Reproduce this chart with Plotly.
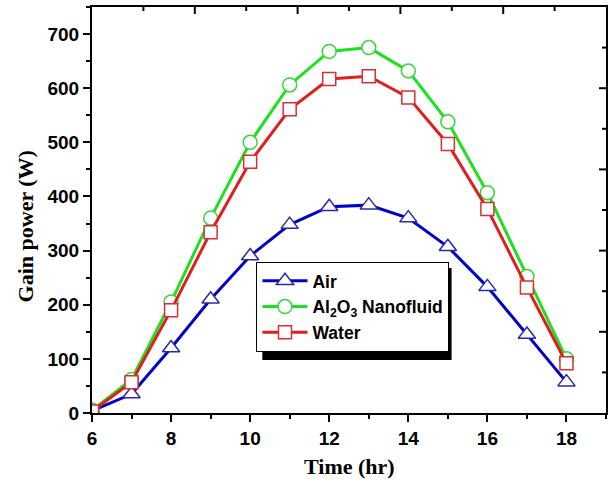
import plotly.graph_objects as go

time_hr = [6, 7, 8, 9, 10, 11, 12, 13, 14, 15, 16, 17, 18]
air = [4, 35, 120, 210, 290, 348, 381, 384, 360, 307, 233, 145, 57]
nanofluid = [5, 62, 205, 360, 500, 606, 668, 675, 632, 538, 407, 252, 100]
water = [3, 57, 190, 334, 464, 561, 617, 622, 583, 497, 377, 232, 92]

series = [
    ("Air", air, "#0000cc", "#2a2aa8", "triangle-up", 15),
    ("Al<sub>2</sub>O<sub>3</sub> Nanofluid", nanofluid, "#1fe01f", "#3ad43a", "circle", 14),
    ("Water", water, "#e01e1e", "#d83030", "square", 13),
]

W, H = 613, 490
ML, MR, MT, MB = 92, 5, 7, 77
PW, PH = W - ML - MR, H - MT - MB

fig = go.Figure()
for name, vals, col, mcol, sym, sz in series:
    fig.add_trace(go.Scatter(
        x=time_hr, y=vals, name=name, mode="lines+markers",
        line=dict(color=col, width=3),
        marker=dict(symbol=sym, size=sz, color="white",
                    line=dict(color=mcol, width=1.5)),
    ))

tickfont = dict(family="Liberation Sans, Arial", size=19, color="black", weight="bold")
fig.update_layout(
    width=W, height=H,
    margin=dict(l=ML, r=MR, t=MT, b=MB),
    paper_bgcolor="white", plot_bgcolor="white",
    showlegend=True,
    xaxis=dict(range=[6, 19], dtick=2, tick0=6, ticks="outside", ticklen=7,
               tickwidth=2, tickcolor="black", showline=True, linewidth=2,
               linecolor="black", mirror=True, showgrid=False, zeroline=False,
               tickfont=tickfont,
               minor=dict(dtick=1, tick0=6, ticks="outside", ticklen=4,
                          tickwidth=2, tickcolor="black", showgrid=False)),
    yaxis=dict(range=[0, 750], dtick=100, tick0=0, ticks="outside", ticklen=7,
               tickwidth=2, tickcolor="black", showline=True, linewidth=2,
               linecolor="black", mirror=True, showgrid=False, zeroline=False,
               tickfont=tickfont,
               minor=dict(dtick=50, tick0=0, ticks="outside", ticklen=4,
                          tickwidth=2, tickcolor="black", showgrid=False)),
    legend=dict(x=0.32, y=0.372, xanchor="left", yanchor="top",
                bgcolor="white", bordercolor="black", borderwidth=1,
                font=dict(family="Liberation Sans, Arial", size=17.5, color="black",
                          weight="bold"),
                tracegroupgap=0, itemwidth=45),
)

# inward-pointing frame ticks on the top and right edges (10 divisions,
# long tick every second division)
for i in range(1, 10):
    f = i / 10
    L = 7 if i % 2 == 0 else 4
    fig.add_shape(type="line", xref="paper", yref="paper",
                  x0=f, x1=f, y0=1, y1=1 - L / PH,
                  line=dict(color="black", width=2))
    fig.add_shape(type="line", xref="paper", yref="paper",
                  x0=1, x1=1 - L / PW, y0=f, y1=f,
                  line=dict(color="black", width=2))

# legend drop shadow
fig.add_shape(type="rect", xref="paper", yref="paper",
              x0=0.3314, x1=0.6996, y0=0.1305, y1=0.357,
              fillcolor="black", line=dict(width=0), layer="above")

titlefont = dict(family="Liberation Serif, Times New Roman", size=22, color="black")
fig.add_annotation(text="<b>Time (hr)</b>", xref="paper", yref="paper",
                   x=0.5, y=-0.133, xanchor="center", yanchor="middle",
                   showarrow=False, font=titlefont)
fig.add_annotation(text="<b>Gain power (W)</b>", xref="paper", yref="paper",
                   x=-0.13, y=0.46, xanchor="center", yanchor="middle",
                   textangle=-90, showarrow=False, font=titlefont)

fig.write_html("out.html", config={"displayModeBar": False},
               post_script="document.body.style.margin='0';")
